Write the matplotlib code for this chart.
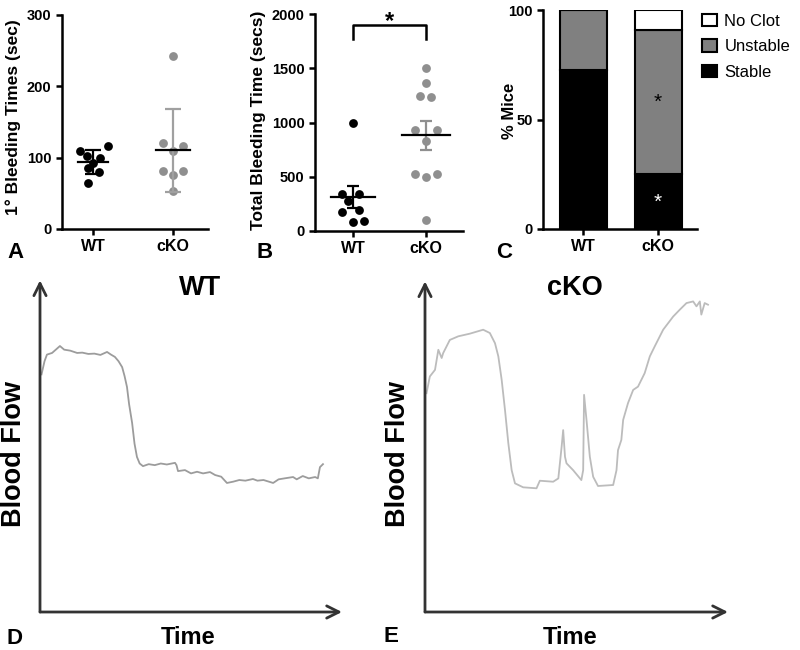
import numpy as np
import matplotlib
matplotlib.use("Agg")
import matplotlib.pyplot as plt
from matplotlib.patches import Patch

plt.rcParams['font.family'] = ['Liberation Sans', 'DejaVu Sans']
plt.rcParams['font.weight'] = 'bold'

W, H = 800, 650

# ---- panel A: 1st bleeding time (sec) ----
a_wt = [110, 116, 102, 100, 92, 85, 80, 65]
a_wt_dx = [-0.16, 0.19, -0.075, 0.083, 0.0, -0.06, 0.08, -0.06]
a_ko = [242, 121, 116, 109, 82, 82, 76, 53]
a_ko_dx = [0.0, -0.125, 0.125, 0.0, -0.125, 0.125, 0.0, 0.0]

# ---- panel B: total bleeding time (secs) ----
b_wt = [1000, 340, 340, 280, 172, 195, 85, 95]
b_wt_dx = [0.0, -0.15, 0.08, -0.07, -0.15, 0.08, 0.0, 0.15]
b_ko = [1500, 1362, 1245, 1239, 932, 932, 833, 523, 501, 523, 101]
b_ko_dx = [0.0, 0.0, -0.08, 0.07, -0.15, 0.15, 0.0, -0.15, 0.0, 0.15, 0.0]

# ---- panel C: % mice ----
groups = ["WT", "cKO"]
stable = [72.5, 25]
unstable = [27.5, 66]
no_clot = [0, 9]

# ---- panel D / E: flow traces (0-100 axes units) ----
wt_x = [0.5, 1.5, 2.3, 4, 6.6, 8, 10, 12.3, 14, 16, 18, 20, 22.2, 23.5, 24.8, 26, 27.2, 28,
        28.8, 29.5, 30.5, 31.3, 32.1, 33, 34.1, 36, 38, 40, 42, 44.7, 45.2, 45.7, 48, 50, 52,
        54, 56.3, 58, 60, 61.9, 64, 66, 68, 70.5, 72, 74, 77.2, 79, 81, 83.8, 85, 87, 89,
        91.1, 92, 92.7, 93.7]
wt_y = [72, 76, 78, 78.5, 80.6, 79.5, 79.2, 78.5, 78.6, 78.2, 78.3, 77.9, 78.8, 78, 77.3, 76,
        74.2, 71.5, 68.2, 63, 57.3, 51, 47, 45, 44.2, 44.8, 44.5, 45, 44.7, 45.2, 44.5, 42.7,
        43, 42, 42.5, 42, 42.4, 41.5, 41, 39.1, 39.5, 40, 39.8, 40.3, 39.8, 40, 39.1, 40.2,
        40.5, 40.9, 40.2, 41.2, 40.5, 40.9, 40.5, 43.9, 44.8]
ko_x = [0.5, 1.6, 3.3, 4.4, 5.5, 6.0, 8.2, 11.0, 14.8, 19.2, 21.4, 23.1, 24.2, 25.3, 26.4,
        27.5, 28.6, 29.7, 32.4, 36.8, 37.9, 42.3, 44.0, 45.1, 45.6, 46.2, 46.7, 48.9, 51.6,
        52.2, 52.5, 53.3, 54.4, 55.5, 57.1, 62.1, 63.2, 63.7, 64.8, 65.4, 67.0, 68.7, 70.3,
        72.5, 74.2, 75.8, 78.6, 81.9, 84.1, 86.3, 88.5, 89.6, 90.7, 91.2, 92.3, 93.4]
ko_y = [66.5, 71.6, 73.6, 79.7, 77.2, 78.7, 82.7, 83.8, 84.6, 85.8, 84.8, 81.7, 77.7, 70.6,
        61.4, 51.3, 43.1, 39.1, 37.9, 37.6, 39.9, 39.6, 40.6, 50.3, 55.3, 47.2, 45.2, 43.1,
        40.1, 43.1, 66.0, 58.4, 47.2, 41.1, 38.3, 38.6, 43.1, 49.2, 52.3, 58.4, 63.5, 67.5,
        68.5, 72.6, 77.7, 80.7, 85.8, 89.8, 91.9, 93.9, 94.4, 92.9, 94.4, 90.4, 93.9, 93.4]

WT_C = "black"
KO_C = "#8f8f8f"


def rect(l, t, r, b):
    return [l / W, 1 - b / H, (r - l) / W, (b - t) / H]


def ftext(px, py, s, **kw):
    fig.text(px / W, 1 - py / H, s, ha="center", va="center", **kw)


def style(ax):
    for s in ["top", "right"]:
        ax.spines[s].set_visible(False)
    for s in ["left", "bottom"]:
        ax.spines[s].set_linewidth(1.8)
    ax.tick_params(width=1.8, length=4)
    ax.tick_params(axis="y", labelsize=10.5)
    ax.tick_params(axis="x", labelsize=11.5)


def dotplot(ax, vals, dx, pos, color, err, half, cap, ecolor):
    vals = np.array(vals)
    ax.scatter(pos + np.array(dx), vals, s=40, color=color, zorder=3, linewidths=0)
    m = vals.mean()
    e = vals.std(ddof=1)
    if err == "sem":
        e = e / np.sqrt(len(vals))
    ax.errorbar(pos, m, yerr=e, color=ecolor, capsize=cap, elinewidth=1.6, capthick=1.6, zorder=4)
    ax.plot([pos - half, pos + half], [m, m], color="black", lw=1.6, zorder=5)


fig = plt.figure(figsize=(8, 6.5), dpi=100)

# A
ax = fig.add_axes(rect(62, 15, 208, 229))
dotplot(ax, a_wt, a_wt_dx, 0, WT_C, "sd", 0.19, 6, "black")
dotplot(ax, a_ko, a_ko_dx, 1, KO_C, "sd", 0.21, 6, "#a0a0a0")
ax.set_xlim(-0.39, 1.44)
ax.set_ylim(0, 300)
ax.set_yticks([0, 100, 200, 300])
ax.set_xticks([0, 1])
ax.set_xticklabels(groups)
style(ax)
ftext(13, 117, "1° Bleeding Times (sec)", rotation=90, fontsize=12.5)

# B
ax = fig.add_axes(rect(315, 14, 463, 231))
dotplot(ax, b_wt, b_wt_dx, 0, WT_C, "sem", 0.3, 4, "black")
dotplot(ax, b_ko, b_ko_dx, 1, KO_C, "sem", 0.33, 4, KO_C)
ax.set_xlim(-0.52, 1.51)
ax.set_ylim(0, 2000)
ax.set_yticks([0, 500, 1000, 1500, 2000])
ax.set_xticks([0, 1])
ax.set_xticklabels(groups)
ax.plot([0, 0, 1, 1], [1770, 1900, 1900, 1770], color="black", lw=1.8, clip_on=False)
ax.text(0.5, 1935, "*", ha="center", va="center", fontsize=17)
style(ax)
ftext(258, 120, "Total Bleeding Time (secs)", rotation=90, fontsize=12.5)

# C
ax = fig.add_axes(rect(543, 10, 697, 229))
x = np.arange(len(groups))
bw = 0.63
ax.bar(x, stable, bw, color="black", edgecolor="black", lw=1.5)
ax.bar(x, unstable, bw, bottom=stable, color="#808080", edgecolor="black", lw=1.5)
ax.bar(x, no_clot, bw, bottom=np.array(stable) + np.array(unstable), color="white",
       edgecolor="black", lw=1.5)
ax.text(1, 58, "*", ha="center", va="center", fontsize=15, color="black", fontweight="normal")
ax.text(1, 12, "*", ha="center", va="center", fontsize=15, color="white", fontweight="normal")
ax.set_xlim(-0.54, 1.52)
ax.set_ylim(0, 100)
ax.set_yticks([0, 50, 100])
ax.set_xticks(x)
ax.set_xticklabels(groups)
style(ax)
ftext(509, 111, "% Mice", rotation=90, fontsize=12)
handles = [Patch(facecolor="white", edgecolor="black", lw=1.5, label="No Clot"),
           Patch(facecolor="#808080", edgecolor="black", lw=1.5, label="Unstable"),
           Patch(facecolor="black", edgecolor="black", lw=1.5, label="Stable")]
fig.legend(handles=handles, loc="upper left", bbox_to_anchor=(702 / W, 1 - 14 / H),
           frameon=False, prop={"size": 12, "weight": "normal"}, handlelength=0.9,
           handleheight=0.75, handletextpad=0.45, labelspacing=0.62, borderaxespad=0,
           borderpad=0)


# D / E traces
def trace(box, xs, ys, color, title, tx, lab_x, time_x):
    ax = fig.add_axes(rect(*box))
    ax.plot(xs, ys, color=color, lw=1.3)
    ax.set_xlim(0, 100)
    ax.set_ylim(0, 100)
    ax.axis("off")
    arr = dict(arrowstyle="->", lw=2, color="#333333", mutation_scale=22, shrinkA=0, shrinkB=0)
    ax.annotate("", xy=(0, 1.005), xytext=(0, 0), xycoords="axes fraction", arrowprops=arr)
    ax.annotate("", xy=(1, 0), xytext=(0, 0), xycoords="axes fraction", arrowprops=arr)
    ftext(tx, 288, title, fontsize=19.5)
    ftext(lab_x, 454, "Blood Flow", rotation=90, fontsize=19.5)
    ftext(time_x, 637, "Time", fontsize=17)


trace((40, 282, 342, 612), wt_x, wt_y, "#9c9c9c", "WT", 200, 14, 188)
trace((425, 283, 728, 612), ko_x, ko_y, "#bcbcbc", "cKO", 575, 398, 570)

# panel letters
for lab, px, py in [("A", 15, 253), ("B", 265, 253), ("C", 504, 253), ("D", 15, 638), ("E", 391, 636)]:
    ftext(px, py, lab, fontsize=16)

fig.savefig("out.png", dpi=100, facecolor="white")
